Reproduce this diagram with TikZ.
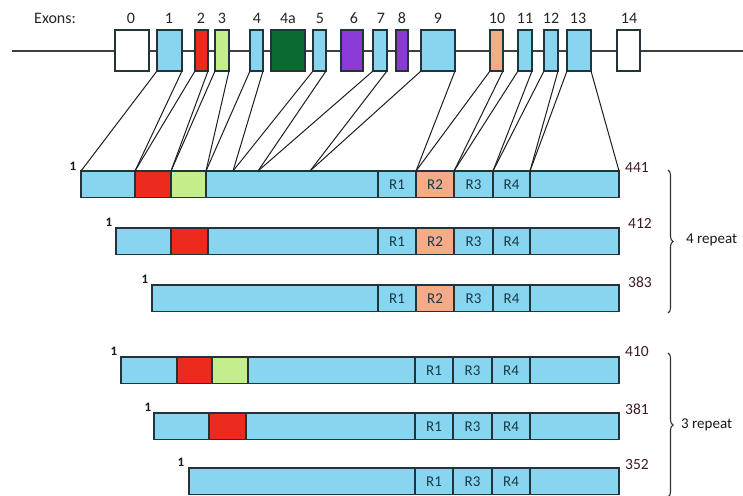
\documentclass[tikz,border=0pt]{standalone}
\usepackage{fontspec}
\setmainfont{Carlito}
\usetikzlibrary{decorations.pathreplacing}
\definecolor{taublue}{HTML}{88D5F0}
\definecolor{taured}{HTML}{EC2A1E}
\definecolor{taugreen}{HTML}{C4EE8C}
\definecolor{taudkgreen}{HTML}{0C6A30}
\definecolor{taupurple}{HTML}{8A3AD6}
\definecolor{tausalmon}{HTML}{F5AA88}
\definecolor{outline}{HTML}{22343A}
\definecolor{connect}{HTML}{1E1E1E}
\definecolor{numtxt}{HTML}{3E1A28}
\definecolor{rtxt}{HTML}{183A48}
\tikzset{
  exonbox/.style={draw=outline, line width=1.2pt, inner sep=0pt, outer sep=0pt, anchor=north west, minimum height=41pt},
  seg/.style={draw=outline, line width=1.2pt, inner sep=0pt, outer sep=0pt, anchor=north west, minimum height=26.5pt, fill=taublue, text=rtxt, font=\fontsize{15}{17}\selectfont},
  exlbl/.style={text=black!85, font=\fontsize{16}{18}\selectfont, inner sep=0pt},
  onelbl/.style={text=black!90, font=\fontsize{13}{15}\selectfont\bfseries, inner sep=0pt},
  endlbl/.style={text=numtxt, font=\fontsize{15.5}{17}\selectfont, inner sep=0pt, anchor=west},
  replbl/.style={text=black!90, font=\fontsize{15}{17}\selectfont, inner sep=0pt, anchor=west},
  conn/.style={draw=connect, line width=1pt},
  bracestyle/.style={draw=black!80, line width=1.1pt, decorate, decoration={brace, amplitude=5pt}}
}
\begin{document}
\begin{tikzpicture}[x=1pt,y=-1pt]
\useasboundingbox[fill=white] (0,0) rectangle (743,495);
% gene line
\coordinate (gl) at (12,51);
\coordinate (gr) at (743,51);
\draw[draw=black!75, line width=1.6pt] (gl) -- (gr);
% exons
\node[exonbox, fill=white,      minimum width=34pt] (e0)  at (115,30) {};
\node[exonbox, fill=taublue,    minimum width=25pt] (e1)  at (157,30) {};
\node[exonbox, fill=taured,     minimum width=13pt] (e2)  at (195,30) {};
\node[exonbox, fill=taugreen,   minimum width=14pt] (e3)  at (215,30) {};
\node[exonbox, fill=taublue,    minimum width=13pt] (e4)  at (250,30) {};
\node[exonbox, fill=taudkgreen, minimum width=34pt] (e4a) at (271,30) {};
\node[exonbox, fill=taublue,    minimum width=13pt] (e5)  at (313,30) {};
\node[exonbox, fill=taupurple,  minimum width=22pt] (e6)  at (341,30) {};
\node[exonbox, fill=taublue,    minimum width=14pt] (e7)  at (373,30) {};
\node[exonbox, fill=taupurple,  minimum width=12pt] (e8)  at (396,30) {};
\node[exonbox, fill=taublue,    minimum width=34pt] (e9)  at (421,30) {};
\node[exonbox, fill=tausalmon,  minimum width=13pt] (e10) at (490,30) {};
\node[exonbox, fill=taublue,    minimum width=14pt] (e11) at (518,30) {};
\node[exonbox, fill=taublue,    minimum width=14pt] (e12) at (544,30) {};
\node[exonbox, fill=taublue,    minimum width=24pt] (e13) at (567,30) {};
\node[exonbox, fill=white,      minimum width=23pt] (e14) at (617,30) {};
% exon labels
\node[exlbl, anchor=west] (exons) at (34,18) {Exons:};
\node[exlbl] (l0)  at (131,18) {0};
\node[exlbl] (l1)  at (169,18) {1};
\node[exlbl] (l2)  at (201,18) {2};
\node[exlbl] (l3)  at (222,18) {3};
\node[exlbl] (l4)  at (257,18) {4};
\node[exlbl] (l4a) at (288,18) {4a};
\node[exlbl] (l5)  at (320,18) {5};
\node[exlbl] (l6)  at (354,18) {6};
\node[exlbl] (l7)  at (381,18) {7};
\node[exlbl] (l8)  at (402,18) {8};
\node[exlbl] (l9)  at (438,18) {9};
\node[exlbl] (l10) at (497,18) {10};
\node[exlbl] (l11) at (525,18) {11};
\node[exlbl] (l12) at (551,18) {12};
\node[exlbl] (l13) at (578,18) {13};
\node[exlbl] (l14) at (629,18) {14};
% row 1 (441)
\node[seg, minimum width=54pt]  (r1a) at (81,171) {};
\node[seg, fill=taured, minimum width=36pt] (r1b) at (135,171) {};
\node[seg, fill=taugreen, minimum width=35pt] (r1c) at (171,171) {};
\node[seg, minimum width=172pt] (r1d) at (206,171) {};
\node[seg, minimum width=38pt]  (r1e) at (378,171) {R1};
\node[seg, fill=tausalmon, minimum width=38pt] (r1f) at (416,171) {R2};
\node[seg, minimum width=39pt]  (r1g) at (454,171) {R3};
\node[seg, minimum width=37pt]  (r1h) at (493,171) {R4};
\node[seg, minimum width=89pt]  (r1i) at (530,171) {};
\node[onelbl] (n1a) at (73,166) {1};
\node[endlbl] (n1b) at (625,168) {441};
% row 2 (412)
\node[seg, minimum width=55pt]  (r2a) at (116,228) {};
\node[seg, fill=taured, minimum width=37pt] (r2b) at (171,228) {};
\node[seg, minimum width=170pt] (r2c) at (208,228) {};
\node[seg, minimum width=38pt]  (r2e) at (378,228) {R1};
\node[seg, fill=tausalmon, minimum width=38pt] (r2f) at (416,228) {R2};
\node[seg, minimum width=39pt]  (r2g) at (454,228) {R3};
\node[seg, minimum width=37pt]  (r2h) at (493,228) {R4};
\node[seg, minimum width=89pt]  (r2i) at (530,228) {};
\node[onelbl] (n2a) at (109,222) {1};
\node[endlbl] (n2b) at (628,223) {412};
% row 3 (383)
\node[seg, minimum width=226pt] (r3a) at (152,285) {};
\node[seg, minimum width=38pt]  (r3e) at (378,285) {R1};
\node[seg, fill=tausalmon, minimum width=38pt] (r3f) at (416,285) {R2};
\node[seg, minimum width=39pt]  (r3g) at (454,285) {R3};
\node[seg, minimum width=37pt]  (r3h) at (493,285) {R4};
\node[seg, minimum width=89pt]  (r3i) at (530,285) {};
\node[onelbl] (n3a) at (145,279) {1};
\node[endlbl] (n3b) at (628,282) {383};
% row 4 (410)
\node[seg, minimum width=56pt]  (r4a) at (121,357) {};
\node[seg, fill=taured, minimum width=35pt] (r4b) at (177,357) {};
\node[seg, fill=taugreen, minimum width=36pt] (r4c) at (212,357) {};
\node[seg, minimum width=167pt] (r4d) at (248,357) {};
\node[seg, minimum width=38pt]  (r4e) at (415,357) {R1};
\node[seg, minimum width=39pt]  (r4g) at (453,357) {R3};
\node[seg, minimum width=38pt]  (r4h) at (492,357) {R4};
\node[seg, minimum width=89pt]  (r4i) at (530,357) {};
\node[onelbl] (n4a) at (114,351) {1};
\node[endlbl] (n4b) at (625,352) {410};
% row 5 (381)
\node[seg, minimum width=55pt]  (r5a) at (154,413) {};
\node[seg, fill=taured, minimum width=37pt] (r5b) at (209,413) {};
\node[seg, minimum width=169pt] (r5c) at (246,413) {};
\node[seg, minimum width=38pt]  (r5e) at (415,413) {R1};
\node[seg, minimum width=39pt]  (r5g) at (453,413) {R3};
\node[seg, minimum width=38pt]  (r5h) at (492,413) {R4};
\node[seg, minimum width=89pt]  (r5i) at (530,413) {};
\node[onelbl] (n5a) at (148,407) {1};
\node[endlbl] (n5b) at (625,409) {381};
% row 6 (352)
\node[seg, minimum width=226pt] (r6a) at (189,468) {};
\node[seg, minimum width=38pt]  (r6e) at (415,468) {R1};
\node[seg, minimum width=39pt]  (r6g) at (453,468) {R3};
\node[seg, minimum width=38pt]  (r6h) at (492,468) {R4};
\node[seg, minimum width=89pt]  (r6i) at (530,468) {};
\node[onelbl] (n6a) at (181,462) {1};
\node[endlbl] (n6b) at (625,465) {352};
% connectors
\coordinate (p1) at (233,171);
\coordinate (p2) at (258,171);
\coordinate (p3) at (310,171);
\draw[conn] (e1.south west) -- (r1a.north west);
\draw[conn] (e1.south east) -- (r1b.north west);
\draw[conn] (e2.south west) -- (r1b.north west);
\draw[conn] (e2.south east) -- (r1b.north east);
\draw[conn] (e3.south west) -- (r1c.north west);
\draw[conn] (e3.south east) -- (r1c.north east);
\draw[conn] (e4.south west) -- (r1d.north west);
\draw[conn] (e4.south east) -- (p1);
\draw[conn] (e5.south west) -- (p1);
\draw[conn] (e5.south east) -- (p2);
\draw[conn] (e7.south west) -- (p2);
\draw[conn] (e7.south east) -- (p3);
\draw[conn] (e9.south west) -- (p3);
\draw[conn] (e9.south east) -- (r1f.north west);
\draw[conn] (e10.south west) -- (r1f.north west);
\draw[conn] (e10.south east) -- (r1g.north west);
\draw[conn] (e11.south west) -- (r1g.north west);
\draw[conn] (e11.south east) -- (r1h.north west);
\draw[conn] (e12.south west) -- (r1h.north west);
\draw[conn] (e12.south east) -- (r1i.north west);
\draw[conn] (e13.south west) -- (r1i.north west);
\draw[conn] (e13.south east) -- (r1i.north east);
% braces
\coordinate (b1t) at (668,170);
\coordinate (b1b) at (668,313);
\coordinate (b2t) at (668,353);
\coordinate (b2b) at (668,497);
\draw[bracestyle] (b1t) -- (b1b);
\draw[bracestyle] (b2t) -- (b2b);
\node[replbl] (rep4) at (686,240) {4 repeat};
\node[replbl] (rep3) at (681,425) {3 repeat};
\end{tikzpicture}
\end{document}
